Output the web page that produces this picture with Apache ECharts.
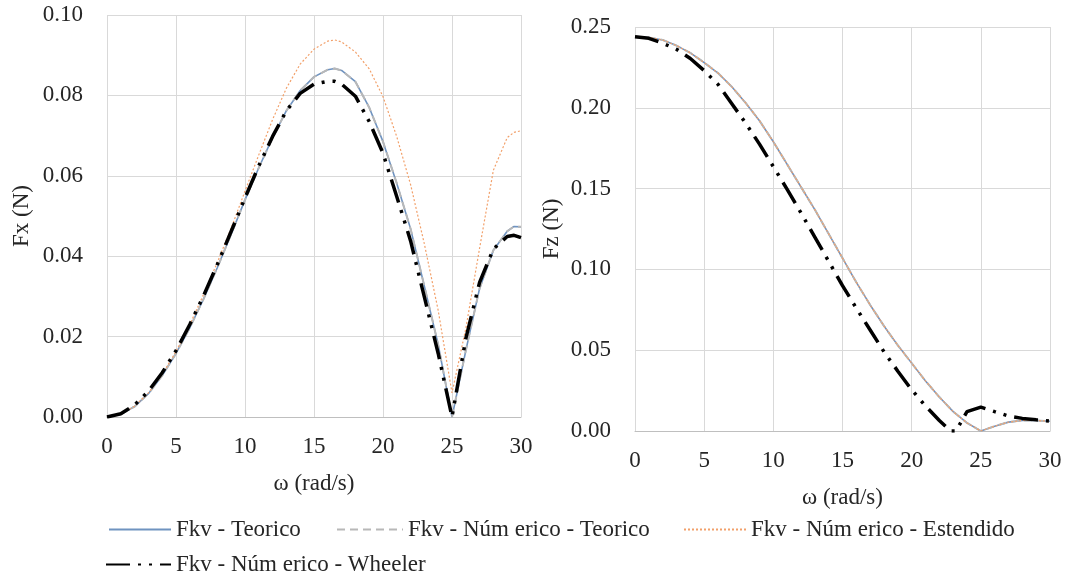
<!DOCTYPE html>
<html>
<head>
<meta charset="utf-8">
<script src="https://cdn.jsdelivr.net/npm/echarts@6/dist/echarts.min.js"></script>
<style>
html,body{margin:0;padding:0;background:#fff;}
#chart{width:1065px;height:578px;}
</style>
</head>
<body>
<div id="chart"></div>
<script>
// ---------- DATA ----------
const seriesNames = ["Fkv - Teorico", "Fkv - Núm erico - Teorico", "Fkv - Núm erico - Estendido", "Fkv - Núm erico - Wheeler"];

// Left chart: Fx (N) vs ω (rad/s)
const fxOmega = [0,1,2,3,4,5,6,7,8,9,10,11,12,13,14,15,16,16.5,17,18,19,20,21,22,23,24,25,26,27,28,29,29.5,30];
const fxTeorico = [0,0.0007,0.0026,0.0058,0.0103,0.0158,0.0222,0.0294,0.0372,0.0455,0.0540,0.0620,0.0695,0.0762,0.0812,0.0846,0.0864,0.0867,0.0862,0.0834,0.0770,0.0685,0.0581,0.0468,0.0325,0.0180,0,0.0165,0.0320,0.0415,0.0462,0.0474,0.0473];
const fxNumTeorico = [0,0.0007,0.0026,0.0058,0.0103,0.0158,0.0222,0.0294,0.0372,0.0455,0.0540,0.0620,0.0695,0.0762,0.0812,0.0846,0.0864,0.0867,0.0862,0.0834,0.0770,0.0685,0.0581,0.0468,0.0325,0.0180,0,0.0165,0.0320,0.0415,0.0462,0.0474,0.0473];
const fxEstendido = [0,0.0007,0.0027,0.0060,0.0106,0.0163,0.0230,0.0305,0.0385,0.0470,0.0562,0.0652,0.0740,0.0818,0.0878,0.0915,0.0935,0.0938,0.0933,0.0908,0.0866,0.0797,0.0697,0.0578,0.0430,0.0265,0.0060,0.0220,0.0420,0.0614,0.0695,0.0708,0.0712];
const fxWheeler = [0,0.0008,0.0030,0.0064,0.0110,0.0165,0.0230,0.0302,0.0380,0.0462,0.0545,0.0625,0.0698,0.0762,0.0805,0.0828,0.0835,0.0835,0.0828,0.0798,0.0735,0.0656,0.0548,0.0438,0.0298,0.0158,0,0.0195,0.0335,0.0418,0.0449,0.0452,0.0446];

// Right chart: Fz (N) vs ω (rad/s)
const fzOmega = [0,1,2,3,4,5,6,7,8,9,10,11,12,13,14,15,16,17,18,19,20,21,22,23,24,25,26,27,28,29,30];
const fzTeorico = [0.244,0.2435,0.242,0.2385,0.234,0.228,0.2215,0.213,0.203,0.192,0.179,0.165,0.151,0.137,0.122,0.107,0.092,0.078,0.065,0.053,0.042,0.031,0.021,0.012,0.005,0.0,0.003,0.0055,0.0065,0.0065,0.006];
const fzWheelerOmega = [0,1,2,3,4,5,6,7,8,9,10,11,12,13,14,15,16,17,18,19,20,21,22,22.8,23.2,24,25,26,27,28,29,30];
const fzWheeler = [0.244,0.243,0.2400,0.2362,0.2305,0.2230,0.2145,0.2025,0.1905,0.1775,0.1636,0.1495,0.1350,0.1200,0.1050,0.0900,0.0760,0.0625,0.0490,0.0370,0.0255,0.0155,0.0065,0,0,0.0120,0.0148,0.0120,0.0093,0.0078,0.0069,0.0062];

const xTicks = {min:0, max:30, interval:5};
const fxTicks = {min:0, max:0.10, interval:0.02};
const fzTicks = {min:0, max:0.25, interval:0.05};
const xName = "ω (rad/s)";
const fxName = "Fx (N)";
const fzName = "Fz (N)";

// ---------- STYLE ----------
const FONT = "Liberation Serif";
const TXT = "#262626";
const GRID = "#d9d9d9";
const FS = 23;
const styles = [
  {color:"#6f93c0", width:1.6, type:"solid"},
  {color:"#b8b8b8", width:2, type:[8,5]},
  {color:"#f2a06a", width:1.2, type:[2,2]},
  {color:"#000000", width:3.5, type:[24,8,3,8,3,8]}
];
const pairs = (xs, ys) => xs.map((x,i)=>[x, ys[i]]);

function mkSeries(name, idx, data, ax){
  return {
    name:name, type:"line", xAxisIndex:ax, yAxisIndex:ax,
    data:data, symbol:"none", smooth:false,
    lineStyle:{color:styles[idx].color, width:styles[idx].width, type:styles[idx].type, cap:"butt"},
    itemStyle:{color:styles[idx].color},
    z: 2+idx, animation:false
  };
}

const axisLabel = {fontFamily:FONT, fontSize:FS, color:TXT};
const nameStyle = {fontFamily:FONT, fontSize:FS, color:TXT};

function xAxis(grid, gap){
  return {type:"value", gridIndex:grid, min:xTicks.min, max:xTicks.max, interval:xTicks.interval,
    name:xName, nameLocation:"middle", nameGap:gap, nameTextStyle:nameStyle,
    axisLine:{show:true, lineStyle:{color:"#bfbfbf", width:1}},
    axisTick:{show:false},
    axisLabel:Object.assign({margin:18}, axisLabel),
    splitLine:{show:true, lineStyle:{color:GRID, width:1}}};
}
function yAxis(grid, t, name, gap){
  return {type:"value", gridIndex:grid, min:t.min, max:t.max, interval:t.interval,
    name:name, nameLocation:"middle", nameGap:gap, nameRotate:90, nameTextStyle:nameStyle,
    axisLine:{show:false}, axisTick:{show:false},
    axisLabel:Object.assign({margin:24, formatter:v=>v.toFixed(2)}, axisLabel),
    splitLine:{show:true, lineStyle:{color:GRID, width:1}}};
}

function legend(name, left, top, w){
  return {data:[name], left:left, top:top, itemWidth:w, itemHeight:14, itemGap:0,
    itemStyle:{opacity:0},
    textStyle:{fontFamily:FONT, fontSize:FS, color:TXT}};
}

const chart = echarts.init(document.getElementById("chart"), null, {renderer:"canvas"});
chart.setOption({
  backgroundColor:"#ffffff",
  animation:false,
  grid:[
    {left:107, top:15, width:414, height:402},
    {left:635, top:27, width:415, height:404}
  ],
  xAxis:[xAxis(0, 55), xAxis(1, 55)],
  yAxis:[yAxis(0, fxTicks, fxName, 74), yAxis(1, fzTicks, fzName, 72)],
  legend:[
    legend(seriesNames[0], 103, 513, 62),
    legend(seriesNames[1], 331, 513, 66),
    legend(seriesNames[2], 678, 513, 62),
    legend(seriesNames[3], 100, 548, 65)
  ],
  series:[
    mkSeries(seriesNames[0], 0, pairs(fxOmega, fxTeorico), 0),
    mkSeries(seriesNames[1], 1, pairs(fxOmega, fxNumTeorico), 0),
    mkSeries(seriesNames[2], 2, pairs(fxOmega, fxEstendido), 0),
    mkSeries(seriesNames[3], 3, pairs(fxOmega, fxWheeler), 0),
    mkSeries(seriesNames[0], 0, pairs(fzOmega, fzTeorico), 1),
    mkSeries(seriesNames[1], 1, pairs(fzOmega, fzTeorico), 1),
    mkSeries(seriesNames[2], 2, pairs(fzOmega, fzTeorico), 1),
    mkSeries(seriesNames[3], 3, pairs(fzWheelerOmega, fzWheeler), 1)
  ]
});
</script>
</body>
</html>
